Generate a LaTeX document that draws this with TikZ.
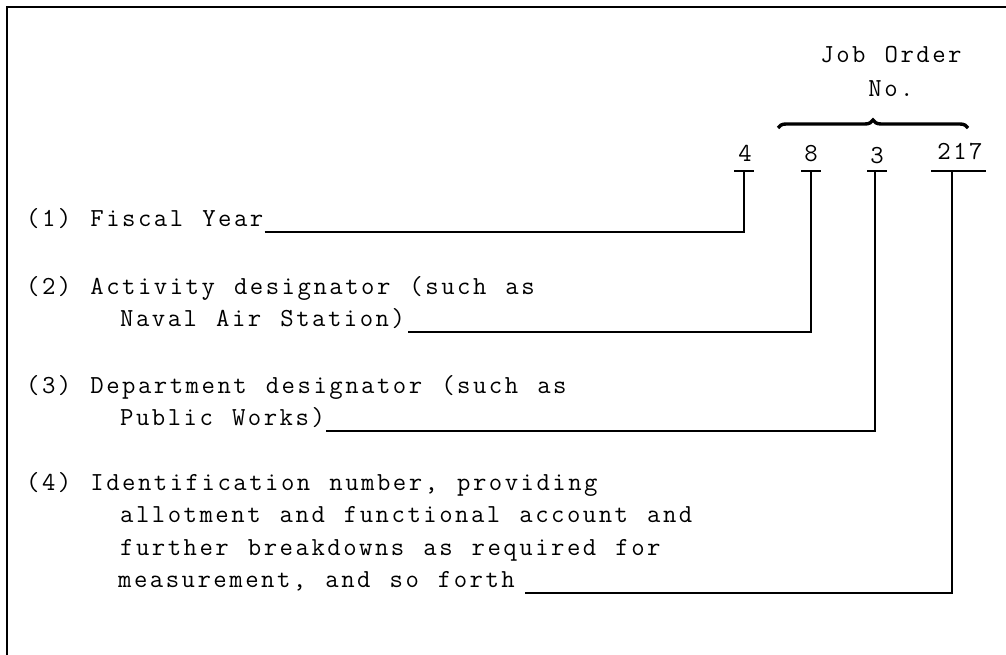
\documentclass[tikz,border=0pt]{standalone}
\usepackage{fontspec}
\setmonofont{Latin Modern Mono}[LetterSpace=9.6,WordSpace=1.2]
\usetikzlibrary{decorations.pathreplacing}

\begin{document}
\begin{tikzpicture}[x=1pt,y=-1pt,
    every node/.style={font=\ttfamily\fontsize{26}{31}\selectfont,inner sep=0pt},
    rule/.style={line width=2.7pt},
    lead/.style={line width=2.7pt}]
  \useasboundingbox (0,0) rectangle (1006,655);
  \draw[rule] (7,655) |- (1006,7);
  % heading over the job order digits
  \node[anchor=base] (job) at (891,63) {Job Order};
  \node[anchor=base] (jobno) at (891,97) {No.};
  \coordinate (brl) at (778,128);
  \coordinate (brr) at (968,128);
  \draw[line width=3.4pt,decorate,decoration={brace,amplitude=8pt}] (brl) -- (brr);
  % the digits, each with its bar
  \foreach \nm/\x/\y/\txt/\bx/\bl/\br in {%
    d4/745/162/4/744/10/10,
    d8/811/162/8/811/10/10,
    d3/877/164/3/875/8/12,
    djo/960/160/217/952/21/34}{
    \node[anchor=base] (\nm) at (\x,\y) {\txt};
    \coordinate (t\nm) at (\bx,171);
    \draw[lead] ([xshift=-\bl pt]t\nm) -- ([xshift=\br pt]t\nm);}
  % the explanations
  \node[anchor=base west] (fy) at (26,226) {(1) Fiscal Year};
  \node[anchor=base west] (ad) at (26,294) {(2) Activity designator (such as};
  \node[anchor=base west] (ad2) at (120,326) {Naval Air Station)};
  \node[anchor=base west] (dd) at (26,393) {(3) Department designator (such as};
  \node[anchor=base west] (dd2) at (120,425) {Public Works)};
  \node[anchor=base west] (id) at (26,490) {(4) Identification number, providing};
  \node[anchor=base west] (id2) at (120,522) {allotment and functional account and};
  \node[anchor=base west] (id3) at (120,555) {further breakdowns as required for};
  \node[anchor=base west] (id4) at (118,587) {measurement, and so forth};
  % leads to the digits
  \draw[lead] ([xshift=1pt,yshift=-6pt]fy.base east) -| (td4);
  \draw[lead] ([xshift=3pt,yshift=-6pt]ad2.base east) -| (td8);
  \draw[lead] ([xshift=1pt,yshift=-6pt]dd2.base east) -| (td3);
  \draw[lead] ([xshift=10pt,yshift=-6pt]id4.base east) -| (tdjo);
\end{tikzpicture}
\end{document}
